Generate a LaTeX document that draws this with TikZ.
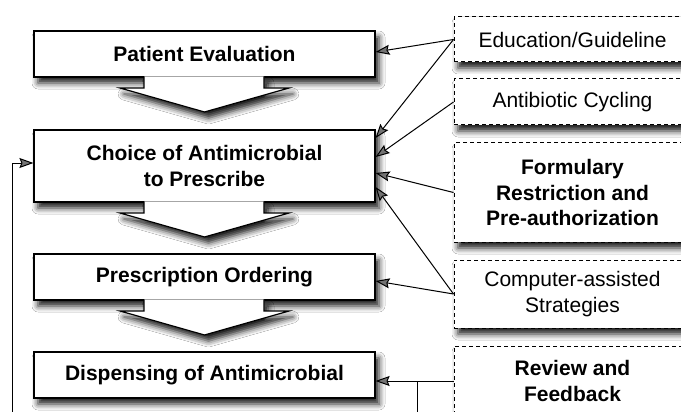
\documentclass[tikz,border=0pt]{standalone}
\usepackage{fontspec}
\setmainfont{Liberation Sans}
\usetikzlibrary{arrows.meta,shadows.blur}
\begin{document}
\begin{tikzpicture}[x=1pt,y=-1pt,
  shad/.style={blur shadow={shadow xshift=4pt,shadow yshift=-6pt,shadow blur radius=6pt,shadow opacity=90}},
  mainbox/.style={draw,line width=1.2pt,fill=white,shad,minimum width=341pt,inner sep=0pt,align=center,
    font=\fontsize{21}{25.5}\selectfont\bfseries},
  sidebox/.style={draw,line width=1pt,dash pattern=on 4pt off 3pt,fill=white,shad,minimum width=237pt,inner sep=0pt,align=center,
    font=\fontsize{21}{25.5}\selectfont},
  conn/.style={-{Stealth[length=14pt,width=10pt,inset=2pt]},line width=1pt},
  chevline/.style={draw,line width=1.2pt,fill=white,line join=miter}]
\clip (0,0) rectangle (681,412);
\fill[white] (0,0) rectangle (681,412);
% chevron shadows
\foreach \yb in {77,202,300}
  \path[shad,fill=white] (144,\yb)--(144,{\yb+11})--(120,{\yb+11})--(204.5,{\yb+35})--(289,{\yb+11})--(264,{\yb+11})--(264,\yb)--cycle;
% main boxes
\node[mainbox,minimum height=46pt] (pe) at (204.5,54) {Patient Evaluation};
\node[mainbox,minimum height=72pt] (choice) at (204.5,166) {Choice of Antimicrobial\\to Prescribe};
\node[mainbox,minimum height=46pt] (presc) at (204.5,277) {Prescription Ordering};
\node[mainbox,minimum height=46pt] (disp) at (204.5,375) {Dispensing of Antimicrobial};
% chevrons
\foreach \yb in {77,202,300}
  \path[chevline] (144,{\yb-0.6})--(144,{\yb+11})--(120,{\yb+11})--(204.5,{\yb+35})--(289,{\yb+11})--(264,{\yb+11})--(264,{\yb-0.6});
% side boxes
\node[sidebox,minimum height=45pt] (edu) at (572.5,39.5) {Education/Guideline};
\node[sidebox,minimum height=46pt] (cyc) at (572.5,102) {Antibiotic Cycling};
\node[sidebox,minimum height=99pt,font=\fontsize{21}{25.5}\selectfont\bfseries] (form) at (572.5,192.5) {Formulary\\Restriction and\\Pre-authorization};
\node[sidebox,minimum height=68pt] (comp) at (572.5,294) {Computer-assisted\\Strategies};
\node[sidebox,minimum height=70pt,font=\fontsize{21}{25.5}\selectfont\bfseries] (rev) at (572.5,381) {Review and\\Feedback};
% connectors
\draw[conn] (edu.west) -- ([yshift=2pt]pe.east);
\draw[conn] (edu.west) -- ([yshift=28pt]choice.east);
\draw[conn] (cyc.west) -- ([yshift=9pt]choice.east);
\draw[conn] (form.west) -- ([yshift=-7pt]choice.east);
\draw[conn] (comp.west) -- ([yshift=-21pt]choice.east);
\draw[conn] (comp.west) -- ([yshift=-4pt]presc.east);
\draw[conn] (rev.west) -- (rev.west -| disp.east);
\coordinate (jx) at (417,0);
\coordinate (j) at (jx |- rev.west);
\coordinate (low) at (0,440);
\coordinate (lx) at (12,0);
\draw[conn] (j) -- (j |- low) -- (lx |- low) |- ([yshift=3pt]choice.west);
\end{tikzpicture}
\end{document}
